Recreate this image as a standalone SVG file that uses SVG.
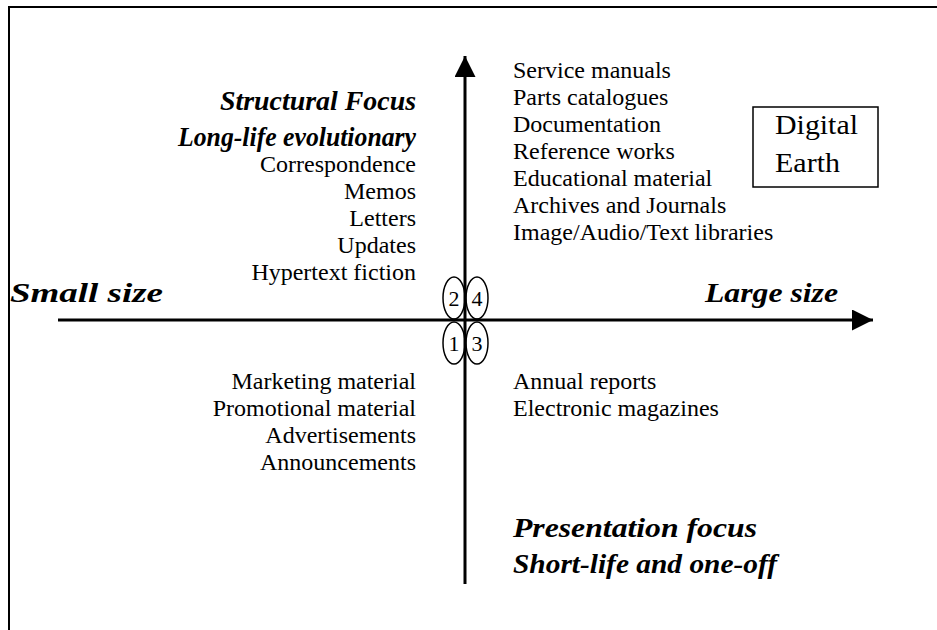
<svg xmlns="http://www.w3.org/2000/svg" width="937" height="630" viewBox="0 0 937 630">
<style>
text{font-family:"Liberation Serif","Times New Roman",serif;fill:#000}
.l{font-size:24px}
.r{text-anchor:end}
.h{font-size:28px;font-weight:bold;font-style:italic}
.n{font-size:22px;text-anchor:middle}
.ax{stroke:#000;stroke-width:3;fill:none}
.el{stroke:#000;stroke-width:1.5;fill:none}
</style>
<defs>
<marker id="ah" viewBox="0 0 10 10" refX="10" refY="5" markerWidth="7" markerHeight="7" markerUnits="strokeWidth" orient="auto">
<path d="M0,0 L10,5 L0,10 z" fill="#000"/>
</marker>
</defs>
<rect x="9" y="7" width="940" height="640" fill="none" stroke="#000" stroke-width="2"/>
<g id="connectors">
<line class="ax" x1="58" y1="320" x2="873" y2="320" marker-end="url(#ah)"/>
<line class="ax" x1="465" y1="584" x2="465" y2="56" marker-end="url(#ah)"/>
</g>
<g id="q2"><ellipse class="el" cx="454" cy="298" rx="11" ry="21"/><text class="n" x="454" y="306">2</text></g>
<g id="q4"><ellipse class="el" cx="477" cy="298" rx="11" ry="21"/><text class="n" x="477" y="306">4</text></g>
<g id="q1"><ellipse class="el" cx="454" cy="343" rx="11" ry="21"/><text class="n" x="454" y="351">1</text></g>
<g id="q3"><ellipse class="el" cx="477" cy="343" rx="11" ry="21"/><text class="n" x="477" y="351">3</text></g>
<g id="structural">
<text class="h r" x="416" y="110" textLength="196" lengthAdjust="spacingAndGlyphs">Structural Focus</text>
<text class="h r" x="416" y="146" textLength="238" lengthAdjust="spacingAndGlyphs">Long-life evolutionary</text>
</g>
<g id="presentation">
<text class="h" x="513" y="537" textLength="244" lengthAdjust="spacingAndGlyphs">Presentation focus</text>
<text class="h" x="513" y="573" textLength="264" lengthAdjust="spacingAndGlyphs">Short-life and one-off</text>
</g>
<g id="small"><text class="h" x="10" y="302" textLength="153" lengthAdjust="spacingAndGlyphs">Small size</text></g>
<g id="large"><text class="h r" x="838" y="302" textLength="133" lengthAdjust="spacingAndGlyphs">Large size</text></g>
<g id="topright" class="l">
<text x="513" y="78">Service manuals</text>
<text x="513" y="105">Parts catalogues</text>
<text x="513" y="132">Documentation</text>
<text x="513" y="159">Reference works</text>
<text x="513" y="186">Educational material</text>
<text x="513" y="213">Archives and Journals</text>
<text x="513" y="240">Image/Audio/Text libraries</text>
</g>
<g id="topleft" class="l r">
<text x="416" y="172">Correspondence</text>
<text x="416" y="199">Memos</text>
<text x="416" y="226">Letters</text>
<text x="416" y="253">Updates</text>
<text x="416" y="280">Hypertext fiction</text>
</g>
<g id="bottomleft" class="l r">
<text x="416" y="389">Marketing material</text>
<text x="416" y="416">Promotional material</text>
<text x="416" y="443">Advertisements</text>
<text x="416" y="470">Announcements</text>
</g>
<g id="bottomright" class="l">
<text x="513" y="389">Annual reports</text>
<text x="513" y="416">Electronic magazines</text>
</g>
<g id="digitalearth">
<rect x="753" y="107" width="125" height="80" fill="none" stroke="#000" stroke-width="1.5"/>
<text x="775" y="134" style="font-size:27px" textLength="83" lengthAdjust="spacingAndGlyphs">Digital</text>
<text x="775" y="172" style="font-size:27px" textLength="65" lengthAdjust="spacingAndGlyphs">Earth</text>
</g>
</svg>
